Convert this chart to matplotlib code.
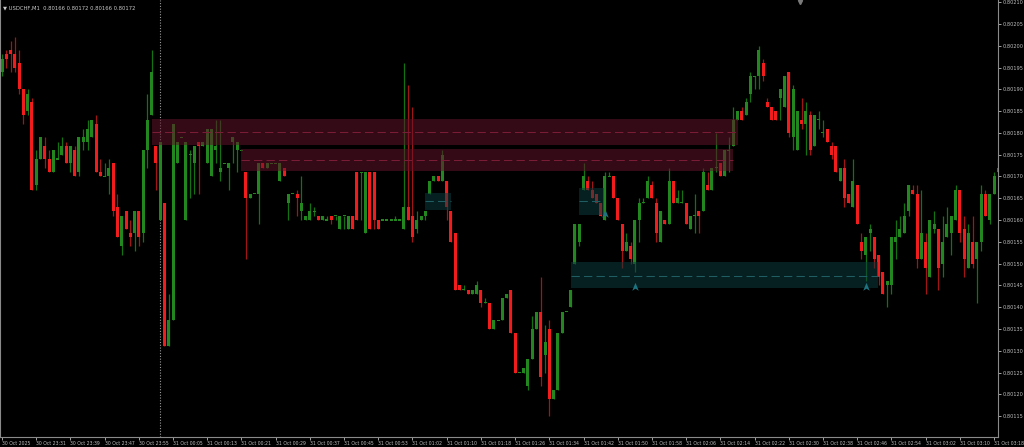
import matplotlib
matplotlib.use("Agg")
import matplotlib.pyplot as plt
from matplotlib.patches import Rectangle
from matplotlib.path import Path
import numpy as np

# USDCHF M1 candles, values in points (0.00001) above 0.80000
opens = [194, 198, 199, 198, 196, 190, 185, 187, 168, 174, 177, 174, 171, 174, 175, 177,
         173, 176, 171, 178, 178, 179, 182, 171, 170, 170, 173, 163, 154, 162, 157, 157,
         162, 157, 176, 184, 177, 160, 164, 131, 137, 173, 179, 160, 175, 173, 178, 177,
         173, 170, 176, 171, 173, 172, 178, 176, 176, 171, 165, 166, 166, 173, 172, 173,
         173, 169, 172, 164, 166, 166, 162, 160, 160, 162, 161, 160, 160, 161, 161, 158,
         161, 158, 161, 171, 171, 157, 171, 171, 160, 160, 160, 160, 160, 160, 158, 163,
         161, 158, 160, 161, 166, 169, 170, 169, 169, 162, 157, 145, 144, 144, 143, 143,
         144, 141, 141, 135, 137, 137, 142, 144, 134, 125, 125, 122, 128, 135, 139, 129,
         135, 119, 121, 134, 139, 140, 150, 155, 167, 169, 167, 166, 164, 160, 170, 170,
         165, 159, 153, 154, 150, 160, 164, 165, 168, 164, 155, 160, 159, 169, 164, 164,
         164, 158, 161, 162, 162, 168, 167, 172, 173, 170, 176, 177, 183, 185, 184, 189,
         193, 193, 196, 187, 186, 185, 188, 186, 194, 179, 176, 183, 182, 184, 177, 183,
         180, 181, 177, 177, 169, 172, 166, 163, 168, 155, 152, 157, 156, 152, 148, 145,
         145, 155, 156, 157, 162, 167, 166, 151, 155, 147, 158, 158, 150, 156, 157, 160,
         167, 158, 149, 155, 151, 155, 166, 160, 166, 171]
highs = [198, 199, 201, 202, 199, 190, 190, 188, 176, 179, 179, 176, 176, 178, 179, 178,
         177, 177, 179, 181, 183, 183, 184, 174, 173, 174, 173, 166, 161, 162, 160, 162,
         162, 176, 189, 199, 177, 178, 164, 143, 182, 178, 179, 178, 176, 177, 178, 178,
         181, 181, 183, 183, 173, 173, 179, 178, 176, 171, 166, 166, 173, 173, 173, 173,
         173, 173, 172, 166, 166, 167, 170, 161, 164, 163, 161, 161, 161, 161, 161, 161,
         161, 161, 161, 171, 171, 171, 171, 171, 160, 160, 160, 160, 161, 160, 196, 191,
         186, 162, 161, 162, 169, 170, 170, 176, 169, 162, 157, 145, 145, 144, 144, 146,
         144, 142, 141, 137, 137, 142, 143, 144, 134, 125, 126, 128, 138, 139, 147, 136,
         137, 121, 134, 139, 139, 144, 159, 159, 173, 170, 169, 166, 164, 171, 171, 170,
         165, 159, 157, 155, 160, 165, 165, 170, 169, 165, 162, 160, 172, 169, 167, 167,
         164, 161, 166, 162, 172, 171, 172, 180, 173, 176, 179, 186, 185, 186, 188, 194,
         193, 200, 197, 188, 186, 185, 190, 193, 194, 191, 185, 188, 187, 185, 184, 185,
         183, 181, 178, 177, 172, 174, 166, 174, 168, 157, 156, 159, 156, 152, 148, 146,
         156, 160, 161, 164, 168, 168, 168, 167, 157, 160, 162, 158, 161, 163, 161, 168,
         167, 161, 159, 161, 155, 168, 167, 166, 171, 174]
lows = [193, 195, 194, 194, 189, 182, 184, 167, 167, 174, 172, 171, 171, 174, 175, 173,
        171, 170, 170, 176, 176, 179, 171, 170, 170, 166, 161, 156, 152, 158, 154, 153,
        154, 155, 172, 184, 167, 160, 131, 131, 137, 173, 179, 160, 165, 166, 166, 177,
        173, 170, 173, 169, 173, 167, 173, 171, 176, 151, 165, 166, 159, 172, 172, 173,
        173, 169, 170, 160, 166, 161, 160, 160, 160, 161, 160, 160, 160, 159, 160, 158,
        158, 158, 158, 160, 160, 157, 158, 158, 158, 160, 160, 160, 160, 160, 158, 160,
        155, 157, 160, 160, 166, 169, 169, 169, 160, 155, 144, 144, 144, 143, 143, 143,
        140, 141, 135, 135, 137, 137, 142, 134, 125, 125, 125, 121, 128, 135, 122, 125,
        115, 119, 121, 134, 139, 140, 150, 154, 167, 167, 165, 164, 161, 160, 170, 165,
        160, 149, 153, 150, 148, 155, 164, 165, 165, 155, 155, 159, 159, 164, 164, 164,
        159, 158, 157, 157, 162, 167, 167, 171, 170, 170, 171, 177, 183, 183, 184, 187,
        190, 190, 192, 186, 183, 183, 183, 186, 179, 176, 176, 181, 175, 175, 177, 181,
        179, 178, 174, 171, 169, 163, 164, 163, 159, 151, 146, 153, 149, 145, 143, 140,
        143, 151, 156, 157, 161, 166, 149, 151, 143, 147, 157, 144, 147, 156, 152, 160,
        155, 147, 149, 149, 141, 153, 161, 159, 166, 171]
closes = [197, 197, 198, 195, 190, 184, 189, 167, 174, 179, 174, 171, 176, 174, 177, 173,
          177, 170, 179, 179, 181, 183, 171, 170, 170, 172, 162, 156, 161, 158, 156, 162,
          156, 176, 183, 194, 173, 178, 131, 137, 182, 178, 179, 178, 175, 177, 177, 178,
          181, 181, 177, 172, 173, 173, 179, 178, 176, 165, 166, 166, 173, 172, 173, 173,
          173, 173, 170, 166, 166, 165, 164, 161, 162, 162, 160, 161, 160, 160, 161, 161,
          161, 161, 158, 160, 171, 171, 158, 160, 158, 160, 160, 160, 160, 160, 163, 160,
          156, 160, 161, 162, 169, 170, 169, 175, 163, 155, 144, 144, 144, 143, 144, 145,
          141, 141, 135, 137, 137, 142, 143, 134, 125, 125, 126, 128, 135, 139, 124, 132,
          119, 121, 134, 139, 139, 144, 159, 159, 170, 167, 165, 164, 161, 170, 170, 165,
          160, 153, 155, 151, 160, 164, 164, 169, 165, 157, 162, 159, 169, 164, 165, 164,
          159, 161, 161, 161, 171, 167, 172, 172, 170, 176, 176, 183, 185, 183, 187, 193,
          193, 199, 193, 186, 183, 183, 190, 193, 180, 190, 185, 182, 185, 176, 184, 183,
          180, 178, 175, 171, 172, 165, 164, 169, 159, 153, 156, 158, 151, 147, 143, 146,
          156, 156, 158, 161, 168, 166, 151, 157, 149, 160, 159, 149, 155, 159, 161, 167,
          157, 151, 157, 150, 155, 166, 161, 166, 170, 172]

tick_labels = ["30 Oct 2025", "30 Oct 23:31", "30 Oct 23:39", "30 Oct 23:47", "30 Oct 23:55",
               "31 Oct 00:05", "31 Oct 00:13", "31 Oct 00:21", "31 Oct 00:29", "31 Oct 00:37",
               "31 Oct 00:45", "31 Oct 00:53", "31 Oct 01:02", "31 Oct 01:10", "31 Oct 01:18",
               "31 Oct 01:26", "31 Oct 01:34", "31 Oct 01:42", "31 Oct 01:50", "31 Oct 01:58",
               "31 Oct 02:06", "31 Oct 02:14", "31 Oct 02:22", "31 Oct 02:30", "31 Oct 02:38",
               "31 Oct 02:46", "31 Oct 02:54", "31 Oct 03:02", "31 Oct 03:10", "31 Oct 03:18"]
tick_every = 8
day_break_bar = 37

# zones: start bar, end bar, low, high, middle line (points), kind
zone_start = [35.1, 55.9, 98.9, 134.9, 133.1]
zone_end = [172.1, 171.0, 105.0, 140.8, 204.9]
zone_low = [177.2, 171.2, 162.3, 161.1, 144.3]
zone_high = [183.2, 176.3, 166.1, 167.3, 150.3]
zone_mid = [180.3, 173.7, 164.3, 164.3, 147.2]
zone_kind = ["supply", "supply", "demand", "demand", "demand"]

# buy arrows
arrow_bars = [141, 148, 202]
arrow_pts = [161.4, 144.6, 144.6]

title = "USDCHF,M1  0.80166 0.80172 0.80166 0.80172"

base = 0.80000
pt = 0.00001
o = base + np.array(opens) * pt
h = base + np.array(highs) * pt
l = base + np.array(lows) * pt
c = base + np.array(closes) * pt
x = np.arange(len(o))

fig = plt.figure(figsize=(10.24, 4.47), dpi=100, facecolor="black")
ax = fig.add_axes([0, 10 / 447, 998 / 1024, 437 / 447])
ax.set_facecolor("black")

up = c >= o
min_h = 0.0000025
body = np.abs(c - o)
body_h = np.maximum(body, min_h)
body_bot = np.minimum(o, c) - (body_h - body) / 2

ax.vlines(x[up], l[up], h[up], color="#137313", lw=0.9, zorder=2)
ax.vlines(x[~up], l[~up], h[~up], color="#a31414", lw=0.9, zorder=2)
ax.bar(x[up], body_h[up], bottom=body_bot[up], width=0.7, color="#22871f", linewidth=0, zorder=2)
ax.bar(x[~up], body_h[~up], bottom=body_bot[~up], width=0.7, color="#f21c1c", linewidth=0, zorder=2)

for s, e, lo, hi, mid, kind in zip(zone_start, zone_end, zone_low, zone_high, zone_mid, zone_kind):
    if kind == "supply":
        fill, dash = "#5e1429", "#7a1c35"
    else:
        fill, dash = "#0b3b3d", "#1f5d63"
    ax.add_patch(Rectangle((s, base + lo * pt), e - s, (hi - lo) * pt,
                           facecolor=fill, edgecolor="none", alpha=0.55, zorder=3))
    ax.plot([s, e], [base + mid * pt] * 2, color=dash, lw=0.75, dashes=(8, 4), zorder=4)

arrow = Path([(0, 1), (0.7, -0.7), (0, -0.25), (-0.7, -0.7), (0, 1)],
             [Path.MOVETO, Path.LINETO, Path.LINETO, Path.LINETO, Path.CLOSEPOLY])
ax.scatter(arrow_bars, base + np.array(arrow_pts) * pt, marker=arrow, s=45,
           color="#1d7480", linewidths=0, zorder=5)

ax.axvline(day_break_bar, color="#9a9a9a", lw=0.8, ls=(0, (1, 1.5)), zorder=1)

ax.set_xlim(-0.47, 232.93)
ax.set_ylim(0.801102, 0.802105)

yt = np.round(np.arange(0.80115, 0.802101, 0.00005), 5)
ax.yaxis.tick_right()
ax.set_yticks(yt)
ax.set_yticklabels([f"{v:.5f}" for v in yt])
ax.set_xticks(np.arange(len(tick_labels)) * tick_every)
ax.set_xticklabels(tick_labels, ha="left")
ax.tick_params(axis="both", colors="#bdbdbd", length=2, width=0.6, pad=1.2)
ax.tick_params(axis="y", labelsize=3.6, pad=1.5)
ax.tick_params(axis="x", labelsize=3.3)

for side in ["left", "right", "bottom"]:
    ax.spines[side].set_color("#8a8a8a")
    ax.spines[side].set_linewidth(0.8)
ax.spines["top"].set_visible(False)

ax.text(0.003, 0.988, "\u25bc " + title, transform=ax.transAxes, color="#c8c8c8",
        fontsize=3.8, va="top", ha="left")
ax.plot([800 / 998], [0.995], transform=ax.transAxes, marker="v", color="#7a7a7a",
        markersize=3, clip_on=False)

fig.savefig("out.png", dpi=100, facecolor="black")
